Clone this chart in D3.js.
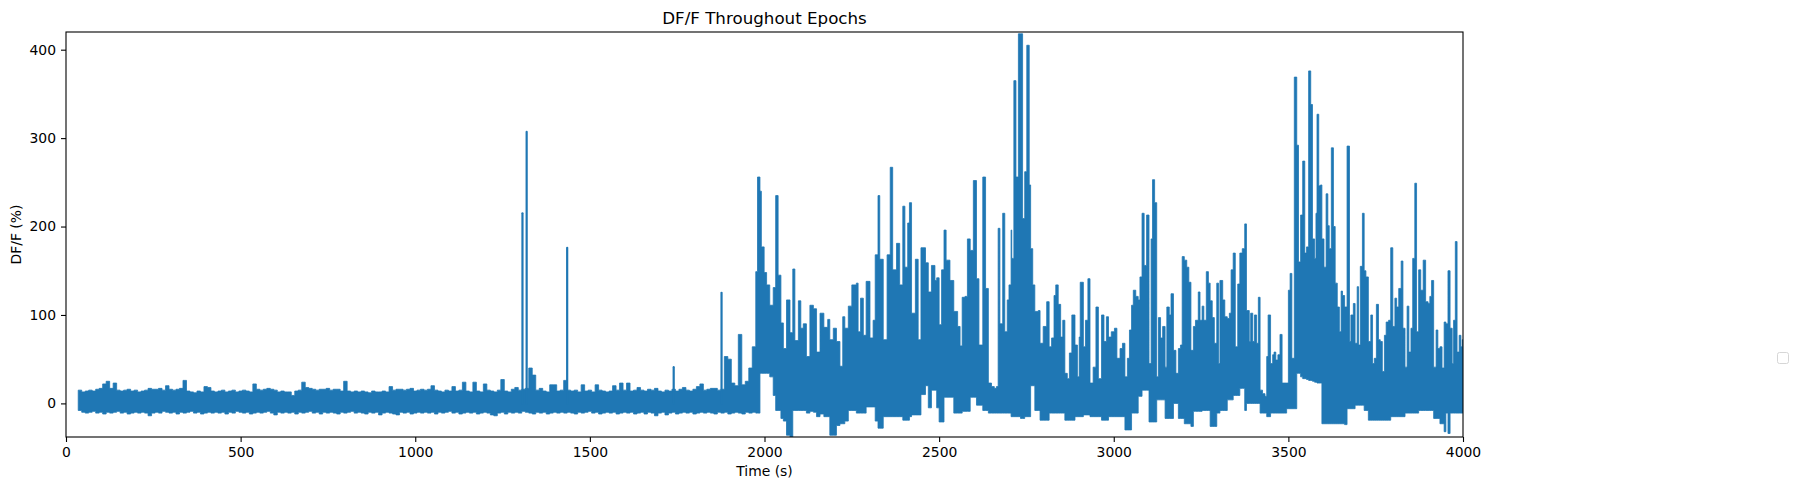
<!DOCTYPE html>
<html>
<head>
<meta charset="utf-8">
<script src="https://cdn.jsdelivr.net/npm/d3@7"></script>
<style>
  body { margin: 0; background: #fff; }
  text { font-family: "DejaVu Sans", sans-serif; }
</style>
</head>
<body>
<script>
// quiet baseline, one high/low pair every 10 s starting at 35 s
var baseStart = 35, baseStep = 10;
var baseHigh = [
  15,13,14,15,14,16,17,22,25,17,23,15,14,15,16,14,15,13,14,15,
  17,16,16,17,15,20,16,15,16,17,26,14,13,12,14,13,19,18,14,13,
  14,15,13,14,15,13,14,15,14,13,22,16,15,16,17,16,15,13,14,13,
  13,9,14,15,24,18,17,16,15,16,16,17,15,16,16,14,25,14,13,14,
  13,14,13,12,14,13,13,14,13,19,15,16,16,15,16,17,14,15,16,15,
  16,20,15,14,13,15,14,19,14,15,24,14,13,24,14,13,22,15,14,13,
  15,27,14,13,16,18,15,16,17,40,32,15,17,14,13,21,21,14,15,26,
  15,14,15,13,21,14,15,13,21,15,14,13,14,20,15,23,15,23,14,15,
  18,15,14,16,15,17,14,13,15,14,16,14,16,18,15,14,16,19,22,15,
  16,17,17,15,16,53,50,23,20,78,21,25,40,64,149
];
var baseLow = [
  -8,-10,-11,-10,-9,-11,-10,-12,-10,-11,-10,-9,-11,-10,-12,-11,-10,-11,-10,-11,
  -14,-11,-10,-11,-9,-10,-11,-10,-12,-10,-11,-10,-9,-11,-10,-12,-11,-10,-11,-10,
  -11,-10,-12,-10,-11,-9,-10,-11,-10,-12,-11,-10,-11,-10,-9,-11,-13,-10,-11,-10,
  -11,-10,-12,-10,-11,-10,-9,-11,-10,-12,-10,-11,-10,-11,-12,-10,-11,-10,-9,-11,
  -10,-11,-12,-10,-11,-10,-13,-11,-10,-11,-12,-13,-10,-11,-10,-12,-11,-10,-11,-10,
  -11,-10,-12,-10,-11,-10,-9,-11,-10,-12,-11,-10,-11,-10,-12,-11,-10,-11,-13,-14,
  -11,-10,-12,-10,-11,-10,-11,-9,-10,-11,-12,-10,-11,-10,-12,-11,-10,-11,-10,-11,
  -10,-11,-12,-10,-11,-10,-9,-11,-10,-12,-11,-10,-11,-10,-12,-11,-10,-11,-10,-12,
  -11,-10,-12,-10,-11,-14,-11,-10,-13,-11,-10,-12,-11,-10,-11,-10,-12,-11,-10,-11,
  -10,-11,-12,-10,-11,-10,-12,-11,-10,-11,-12,-10,-11,-10,-11
];
// isolated transients inside the quiet part: [time, peak]
var baseSpikes = [[1307, 215], [1319, 307], [1435, 176], [1740, 41], [1877, 125]];

// active part: [time, peak, trough]
var activePeaks = [
  [1980,256,-11],[1987,240,34],[1991,177,34],[1999,148,34],[2006,134,34],[2015,111,30],
  [2025,131,9],[2032,235,-8],[2039,145,-8],[2047,91,-17],[2054,62,-20],[2063,117,-36],
  [2073,80,-38],[2081,152,-8],[2087,71,-8],[2097,116,-8],[2104,85,-8],[2111,90,-8],
  [2120,53,-11],[2130,111,-9],[2140,107,-10],[2149,58,-15],[2159,102,-12],[2170,86,-15],
  [2181,95,-15],[2187,72,-36],[2197,85,-36],[2206,70,-25],[2216,42,-23],[2224,98,-23],
  [2230,85,-20],[2240,110,-8],[2250,134,-8],[2263,136,-11],[2268,81,-11],[2275,119,-11],
  [2283,77,-11],[2291,138,-4],[2302,74,-4],[2311,94,-4],[2317,168,-20],[2325,235,-28],
  [2330,163,-28],[2340,72,-15],[2351,168,-15],[2360,267,-15],[2367,151,-15],[2378,181,-15],
  [2387,134,-15],[2396,223,-19],[2402,154,-19],[2410,204,-19],[2415,227,-15],[2421,102,-13],
  [2432,163,-13],[2440,72,-13],[2448,176,10],[2461,159,20],[2469,126,-5],[2478,156,15],
  [2488,139,15],[2493,142,-5],[2500,89,-21],[2507,151,-21],[2514,196,7],[2520,162,7],
  [2531,139,7],[2542,104,-11],[2553,87,-11],[2560,65,-11],[2566,120,-9],[2574,121,-9],
  [2581,186,-9],[2589,173,7],[2598,252,7],[2607,141,-2],[2614,66,-2],[2625,256,-8],
  [2633,130,-8],[2641,23,-11],[2650,19,-11],[2658,17,-11],[2664,19,-11],[2669,198,-11],
  [2674,90,-11],[2682,215,-11],[2688,81,-11],[2695,117,-11],[2700,134,-11],[2706,196,-15],
  [2708,164,-15],[2714,365,-15],[2720,256,-15],[2727,418,-15],[2733,418,-17],[2739,209,-17],
  [2745,262,-15],[2751,405,-15],[2758,247,-15],[2762,175,20],[2768,134,20],[2774,104,-8],
  [2784,105,-8],[2789,68,-19],[2798,87,-19],[2808,115,-19],[2815,64,-11],[2822,74,-11],
  [2829,122,-11],[2834,134,-11],[2841,112,-11],[2848,75,-11],[2854,94,-11],[2860,34,-19],
  [2867,28,-19],[2873,57,-19],[2880,100,-19],[2889,66,-15],[2896,30,-15],[2901,75,-15],
  [2904,137,-15],[2913,64,-13],[2919,94,-13],[2926,141,-13],[2932,23,-15],[2941,41,-15],
  [2949,109,-15],[2956,28,-15],[2965,100,-19],[2972,70,-19],[2979,98,-19],[2985,75,-15],
  [2993,81,-15],[3002,85,-15],[3009,51,-15],[3018,62,-15],[3025,68,-15],[3032,30,-30],
  [3039,51,-30],[3045,83,-30],[3051,111,-11],[3056,128,-11],[3063,121,-11],[3070,117,8],
  [3075,143,8],[3081,215,15],[3087,156,15],[3094,213,15],[3101,45,-21],[3107,186,-21],
  [3111,253,-21],[3117,227,-21],[3123,30,4],[3128,97,4],[3134,74,4],[3140,87,4],
  [3147,41,-17],[3152,109,-17],[3159,100,-17],[3164,124,-17],[3171,60,0],[3178,34,0],
  [3185,62,-17],[3191,66,-17],[3196,166,-17],[3202,162,-23],[3209,154,-23],[3215,137,-23],
  [3221,60,-26],[3228,87,-9],[3234,94,-9],[3242,126,-9],[3247,94,-9],[3253,110,-8],
  [3258,94,-8],[3265,149,-8],[3271,136,-8],[3276,116,-26],[3282,97,-26],[3288,68,-26],
  [3295,136,-11],[3300,45,-11],[3304,139,-8],[3312,117,-8],[3318,98,-8],[3325,96,4],
  [3331,102,4],[3336,151,4],[3342,170,9],[3348,64,9],[3355,135,9],[3361,170,17],
  [3368,175,17],[3375,203,-8],[3380,105,0],[3388,70,0],[3392,102,0],[3398,70,0],
  [3403,100,0],[3409,68,0],[3414,120,0],[3419,15,-11],[3426,11,-11],[3433,8,-11],
  [3438,53,-15],[3442,100,-15],[3449,45,-11],[3455,55,-11],[3459,58,-11],[3464,49,-11],
  [3470,55,-11],[3476,78,-11],[3482,23,-11],[3490,23,-11],[3495,23,-6],[3500,128,-6],
  [3505,147,-6],[3510,51,-6],[3517,369,-6],[3524,292,34],[3529,160,34],[3535,213,30],
  [3541,274,28],[3547,170,28],[3552,177,27],[3558,376,26],[3564,338,26],[3569,186,25],
  [3575,164,24],[3579,215,24],[3582,327,23],[3587,246,23],[3592,247,23],[3596,186,-23],
  [3602,154,-23],[3608,237,-23],[3613,201,-23],[3617,175,-23],[3623,289,-23],[3629,200,-23],
  [3634,136,-23],[3640,109,-23],[3646,81,-23],[3651,127,-23],[3655,122,-23],[3661,109,-24],
  [3668,291,-6],[3675,70,-6],[3679,100,-6],[3686,113,-6],[3691,68,-2],[3697,132,-2],
  [3701,66,-2],[3706,155,-2],[3712,215,-2],[3717,150,-8],[3722,143,-8],[3729,70,-19],
  [3736,100,-19],[3741,45,-19],[3746,51,-19],[3752,112,-19],[3758,72,-19],[3763,70,-19],
  [3769,36,-19],[3775,77,-19],[3780,92,-19],[3787,94,-19],[3793,176,-15],[3799,87,-15],
  [3805,119,-15],[3810,109,-15],[3816,130,-15],[3823,161,-15],[3828,85,-15],[3834,41,-11],
  [3840,110,-11],[3845,58,-11],[3851,85,-11],[3856,164,-11],[3862,249,-11],[3867,81,-11],
  [3873,151,-8],[3879,128,-8],[3886,162,-8],[3893,115,-8],[3900,113,-8],[3905,121,-8],
  [3910,139,-8],[3916,41,-17],[3923,83,-17],[3928,62,-17],[3934,64,-23],[3940,40,-23],
  [3946,92,-32],[3951,90,-11],[3957,150,-34],[3963,85,-11],[3969,45,-11],[3973,94,-11],
  [3978,183,-11],[3983,58,-11],[3989,77,-11],[3994,64,-11],[3998,72,-11]
];

var xTicks = [0, 500, 1000, 1500, 2000, 2500, 3000, 3500, 4000];
var yTicks = [0, 100, 200, 300, 400];

var width = 1798, height = 490;
var plotL = 66, plotR = 1463, plotT = 32, plotB = 437;
var blue = "#1f77b4";

var svg = d3.select("body").append("svg")
  .attr("width", width).attr("height", height);

var x = d3.scaleLinear().domain([0, 4000]).range([plotL, plotR]);
var y = d3.scaleLinear().domain([-38, 420]).range([plotB, plotT]);

// one row per sample window: [time, high, low]
var rows = [];
baseHigh.forEach(function (h, i) {
  rows.push([baseStart + i * baseStep, h, baseLow[i]]);
});
activePeaks.forEach(function (d) {
  rows.push(d);
});
rows.push([4003, 72, -11]); // closes the last window at the right edge

svg.append("clipPath").attr("id", "clip")
  .append("rect")
  .attr("x", plotL).attr("y", plotT)
  .attr("width", plotR - plotL).attr("height", plotB - plotT);

var plot = svg.append("g").attr("clip-path", "url(#clip)");

// the dense trace reads as a solid band between the window lows and highs
var band = d3.area()
  .curve(d3.curveStepAfter)
  .x(function (d) { return x(d[0]); })
  .y0(function (d) { return y(d[2]); })
  .y1(function (d) { return y(d[1]); });

plot.append("path")
  .datum(rows)
  .attr("fill", blue)
  .attr("stroke", blue)
  .attr("stroke-width", 0.8)
  .attr("stroke-linejoin", "round")
  .attr("d", band);

// thin transients in the quiet part
plot.selectAll("line.spike")
  .data(baseSpikes)
  .join("line")
  .attr("class", "spike")
  .attr("x1", function (d) { return x(d[0]); })
  .attr("x2", function (d) { return x(d[0]); })
  .attr("y1", y(0))
  .attr("y2", function (d) { return y(d[1]); })
  .attr("stroke", blue)
  .attr("stroke-width", 2.2)
  .attr("stroke-linecap", "round");

// axes
var xAxis = svg.append("g")
  .attr("transform", "translate(0," + plotB + ")")
  .call(d3.axisBottom(x).tickValues(xTicks).tickSize(5).tickPadding(5).tickFormat(d3.format("d")));
var yAxis = svg.append("g")
  .attr("transform", "translate(" + plotL + ",0)")
  .call(d3.axisLeft(y).tickValues(yTicks).tickSize(5).tickPadding(5).tickFormat(d3.format("d")));

[xAxis, yAxis].forEach(function (g) {
  g.select(".domain").remove();
  g.selectAll(".tick line").attr("stroke", "#000").attr("stroke-width", 1.1);
  g.selectAll(".tick text")
    .attr("fill", "#000")
    .style("font-size", "13.9px")
    .style("font-family", "'DejaVu Sans', sans-serif");
});

svg.append("rect")
  .attr("x", plotL).attr("y", plotT)
  .attr("width", plotR - plotL).attr("height", plotB - plotT)
  .attr("fill", "none").attr("stroke", "#000").attr("stroke-width", 1.1);

svg.append("text")
  .attr("x", (plotL + plotR) / 2).attr("y", 24)
  .attr("text-anchor", "middle")
  .style("font-size", "16.7px")
  .text("DF/F Throughout Epochs");

svg.append("text")
  .attr("x", (plotL + plotR) / 2).attr("y", 476)
  .attr("text-anchor", "middle")
  .style("font-size", "13.9px")
  .text("Time (s)");

svg.append("text")
  .attr("transform", "translate(21," + (plotT + plotB) / 2 + ") rotate(-90)")
  .attr("text-anchor", "middle")
  .style("font-size", "13.9px")
  .text("DF/F (%)");

// empty legend frame
svg.append("rect")
  .attr("x", 1777.5).attr("y", 352.5)
  .attr("width", 11).attr("height", 11)
  .attr("rx", 2)
  .attr("fill", "#fff")
  .attr("stroke", "#d6d6d6")
  .attr("stroke-width", 1);
</script>
</body>
</html>
